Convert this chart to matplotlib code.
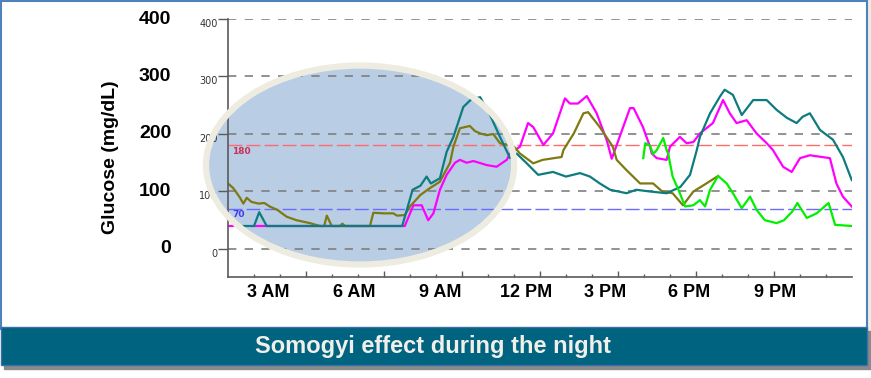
import matplotlib
matplotlib.use('Agg')
import matplotlib.pyplot as plt
import numpy as np
from matplotlib.patches import Ellipse, Rectangle

# glucose traces (hour of day, mg/dL); nan = gap
magenta_h = [0, 0.2, np.nan, 1.0, 6.8, 7.13, 7.45, 7.7, 7.9, 8.15, 8.41, 8.73, 8.92, 9.18, 9.44, 9.95,
             10.33, 10.72, 10.85, 11.23, 11.54, 11.74, 12.13, 12.5, 12.96, 13.15, 13.46, 13.8, 14.18,
             14.56, 14.76, 14.88, 15.46, 15.6, 15.96, 16.23, 16.3, 16.49, 16.87, 17.0, 17.38, 17.64,
             17.9, 18.15, 18.65, 19.04, 19.3, 19.56, 19.95, 20.33, 20.72, 20.96, 21.35, 21.68, 22.0,
             22.38, 23.15, 23.4, 23.65, 23.99]
magenta_v = [40, 40, np.nan, 40, 40, 76, 76, 50, 62, 103, 129, 150, 155, 150, 153, 146,
             143, 155, 166, 178, 219, 212, 181, 201, 262, 253, 253, 266, 236,
             190, 157, 172, 245, 245, 212, 178, 166, 158, 155, 178, 195, 184,
             186, 201, 219, 259, 236, 219, 224, 201, 184, 172, 143, 134, 158,
             163, 158, 114, 91, 74]

olive_h = [0, 0.2, 0.45, 0.59, 0.72, 0.9, 1.17, 1.4, 1.6, 1.9, 2.26, 2.64, 3.15, 3.54, 3.7, 3.8, 3.99,
           4.3, 4.4, 4.5, 5.46, 5.59, 6.0, 6.36, 6.5, 6.8, 7.0, 7.4, 7.77, 8.15, 8.54, 8.67, 8.92,
           9.3, 9.5, 9.7, 9.95, 10.2, 10.46, 10.77, 11.0, 11.23, 11.74, 12.1, 12.83, 12.9, 13.3,
           13.67, 13.85, 14.3, 14.8, 14.95, 15.33, 15.85, 16.35, 16.7, 17.1, 17.5, 17.9, 18.4, 18.85]
olive_v = [114, 106, 90, 79, 89, 82, 79, 80, 74, 68, 56, 50, 45, 40, 40, 58, 40,
           40, 44, 40, 40, 63, 62, 62, 58, 59, 74, 94, 106, 117, 150, 178, 210,
           214, 205, 201, 198, 200, 184, 181, 178, 166, 149, 155, 160, 172, 201,
           236, 238, 212, 178, 155, 137, 114, 114, 100, 97, 76, 100, 114, 127]

teal_h = [0.58, 1.0, 1.2, 1.49, 6.7, 7.1, 7.4, 7.64, 7.8, 8.15, 8.41, 8.67, 9.05, 9.37, 9.7, 10.08,
          10.46, 10.85, 11.1, 11.49, 11.93, 12.5, 13.0, 13.54, 13.92, 14.3, 14.7, 15.33, 15.7, 16.23,
          16.87, 17.4, 17.77, 18.03, 18.15, 18.54, 18.92, 19.1, 19.42, 19.76, 20.2, 20.72, 21.1,
          21.5, 21.87, 22.1, 22.38, 22.77, 23.27, 23.65, 23.99]
teal_v = [40, 40, 64, 40, 40, 103, 110, 126, 114, 123, 169, 195, 247, 261, 264, 233,
          195, 158, 166, 149, 129, 134, 126, 132, 126, 114, 103, 97, 103, 100,
          97, 108, 129, 172, 195, 236, 265, 277, 268, 233, 259, 259, 242,
          228, 219, 230, 236, 207, 190, 160, 120]

green_h = [15.97, 16.05, 16.23, 16.35, 16.49, 16.74, 16.87, 16.93, 17.1, 17.38, 17.58, 17.9, 18.15,
           18.35, 18.54, 18.85, 19.18, 19.42, 19.76, 20.08, 20.33, 20.65, 21.1, 21.38, 21.7, 21.9,
           22.26, 22.64, 23.1, 23.35, 24.0]
green_v = [158, 184, 180, 165, 172, 193, 172, 166, 126, 97, 74, 76, 85,
           74, 103, 127, 114, 97, 71, 91, 68, 50, 45, 50, 65, 80,
           54, 62, 80, 42, 40]

y_ticks = [0, 100, 200, 300, 400]
high_limit = 180
low_limit = 70
x_labels = ['3 AM', '6 AM', '9 AM', '12 PM', '3 PM', '6 PM', '9 PM']
x_label_hours = [1.54, 4.87, 8.15, 11.46, 14.5, 17.73, 21.04]

W, H = 871, 378
fig = plt.figure(figsize=(W / 100, H / 100), dpi=100)
fig.patch.set_facecolor('white')


def box(x, y, w, h, **kw):
    fig.patches.append(Rectangle((x / W, 1 - (y + h) / H), w / W, h / H,
                                 transform=fig.transFigure, **kw))


# slide frame + caption banner
box(868, 0, 3, 330, color='#EDEBE3', zorder=-3)
box(1, 1, 866, 328, facecolor='white', edgecolor='#4F81BD', lw=1.5, zorder=-2)
box(4, 331, 867, 38, color='#8A8A8A', zorder=-2)
box(1, 327, 866, 38, facecolor='#00637F', edgecolor='#3A6FA8', lw=1, zorder=-1)
fig.text(433 / W, 1 - 347 / H, 'Somogyi effect during the night', color='#F0EFEA',
         fontsize=17, fontweight='bold', family='Liberation Sans', ha='center', va='center')

ax = fig.add_axes([228 / W, 1 - 277 / H, 624 / W, 258 / H])
ax.set_facecolor('none')
ax.set_xlim(0, 24)
ax.set_ylim(-48.7, 400)

for s in ['top', 'right']:
    ax.spines[s].set_visible(False)
for s in ['left', 'bottom']:
    ax.spines[s].set_color('#5A5A5A')
    ax.spines[s].set_linewidth(1.2)

for y in y_ticks:
    ax.axhline(y, color='#7F7F7F', lw=1.2, ls=(0, (5, 5)), zorder=1)
ax.axhline(high_limit, color='#FF6B6B', lw=1, ls=(0, (10, 3)), zorder=1)
ax.axhline(low_limit, color='#6B6BFF', lw=1, ls=(0, (10, 3)), zorder=1)
ax.text(0.15, high_limit - 2, str(high_limit), color='#C8325A', fontsize=6.5,
        fontweight='bold', va='top', ha='left', zorder=1)
ax.text(0.15, low_limit - 2, str(low_limit), color='#3C3CF0', fontsize=6.5,
        fontweight='bold', va='top', ha='left', zorder=1)

# highlight ellipse
ell_fill = Ellipse((5.08, 146), 11.85, 346, facecolor='#B9CDE5', edgecolor='none',
                   zorder=0.1, clip_on=False)
ell_edge = Ellipse((5.08, 146), 11.85, 346, facecolor='none', edgecolor='#EEECE1',
                   lw=4.5, zorder=3, clip_on=False)
ax.add_patch(ell_fill)

ax.plot(magenta_h, magenta_v, color='#FF00FF', lw=1.6, zorder=2)
ax.plot(olive_h, olive_v, color='#7E7A12', lw=1.6, zorder=2)
ax.plot(teal_h, teal_v, color='#0E7C7E', lw=1.6, zorder=2)
ax.plot(green_h, green_v, color='#00F000', lw=1.6, zorder=2)
ax.add_patch(ell_edge)

# y axis: small inner labels + big outer labels
ax.set_yticks(y_ticks)
ax.set_yticklabels([str(v) for v in y_ticks], fontsize=7, color='#333333')
for lab in ax.get_yticklabels():
    lab.set_va('top')
ax.tick_params(axis='y', direction='out', length=7, width=1, color='#5A5A5A', pad=0.5)
ytrans = ax.get_yaxis_transform()
for v in y_ticks:
    ax.text(-0.091, v, str(v), transform=ytrans, ha='right', va='center',
            fontsize=14, fontweight='bold', family='Liberation Sans', clip_on=False)
ax.text(-0.188, 0.465, 'Glucose (mg/dL)', transform=ax.transAxes, rotation=90,
        ha='center', va='center', fontsize=14, fontweight='bold', family='Liberation Sans')

# x axis: hourly ticks, labels placed separately
ax.set_xticks(range(3, 24, 3))
ax.set_xticks(range(1, 24), minor=True)
ax.set_xticklabels([])
ax.tick_params(axis='x', which='major', direction='in', length=4, width=1, color='#5A5A5A')
ax.tick_params(axis='x', which='minor', direction='in', length=2.2, width=1, color='#5A5A5A')
xtrans = ax.get_xaxis_transform()
for h, lab in zip(x_label_hours, x_labels):
    ax.text(h, -0.062, lab, transform=xtrans, ha='center', va='center',
            fontsize=13, fontweight='bold', family='Liberation Sans', clip_on=False)

fig.savefig('out.png', dpi=100)
